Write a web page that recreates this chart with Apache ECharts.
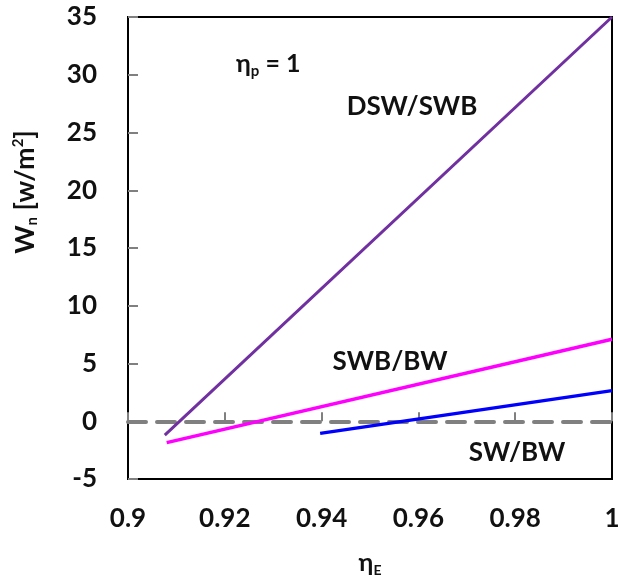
<!DOCTYPE html>
<html><head><meta charset="utf-8">
<script src="https://cdn.jsdelivr.net/npm/echarts@6/dist/echarts.min.js"></script>
<style>html,body{margin:0;padding:0;background:#fff}#c{width:618px;height:583px}</style>
</head><body><div id="c"></div>
<script>
const xTicks = [0.9, 0.92, 0.94, 0.96, 0.98, 1];
const dswX = [0.9076, 1.0];
const dswY = [-1.2, 35];
const swbX = [0.908, 1.0];
const swbY = [-1.85, 7.1];
const swX = [0.9397, 1.0];
const swY = [-1.05, 2.65];
const seriesNames = ['DSW/SWB', 'SWB/BW', 'SW/BW'];

const FONT = 'Lato';
const INK = '#111';
const pair = (xs, ys) => xs.map((x, i) => [x, ys[i]]);
const chart = echarts.init(document.getElementById('c'));
chart.setOption({
  animation: false,
  grid: {left: 128, right: 6, top: 17, bottom: 104, outerBoundsMode: 'none', containLabel: false,
    show: true, borderColor: '#000', borderWidth: 2, backgroundColor: 'transparent'},
  xAxis: [{
    type: 'value', min: 0.9, max: 1, interval: 0.02, position: 'bottom',
    axisLine: {show: false, onZero: false}, axisTick: {show: false}, splitLine: {show: false},
    axisLabel: {margin: 27, fontFamily: FONT, fontWeight: 'bold', fontSize: 26, color: INK,
      formatter: v => String(+v.toFixed(2))},
    name: '{a|η}{s|E}', nameLocation: 'middle', nameGap: 70,
    nameTextStyle: {rich: {a: {fontFamily: FONT, fontWeight: 'bold', fontSize: 25, color: INK},
      s: {fontFamily: FONT, fontWeight: 'bold', fontSize: 14, color: INK, padding: [14, 0, 0, 0]}}}
  }, {
    type: 'value', min: 0.9, max: 1, interval: 0.02, position: 'bottom',
    axisLine: {show: true, onZero: true, lineStyle: {color: '#808080', width: 4, type: [18, 11]}},
    axisTick: {show: true, inside: true, length: 9, lineStyle: {color: '#808080', width: 2}},
    axisLabel: {show: false}, splitLine: {show: false}
  }],
  yAxis: {
    type: 'value', min: -5, max: 35, interval: 5,
    axisLine: {show: false}, splitLine: {show: false},
    axisTick: {show: true, inside: true, length: 10, lineStyle: {color: '#808080', width: 2}},
    axisLabel: {margin: 31, fontFamily: FONT, fontWeight: 'bold', fontSize: 26, color: INK}
  },
  series: [
    {name: seriesNames[0], type: 'line', xAxisIndex: 0, data: pair(dswX, dswY), symbol: 'none', lineStyle: {color: '#7030A0', width: 3}},
    {name: seriesNames[1], type: 'line', xAxisIndex: 0, data: pair(swbX, swbY), symbol: 'none', lineStyle: {color: '#FF00FF', width: 3.5}},
    {name: seriesNames[2], type: 'line', xAxisIndex: 0, data: pair(swX, swY), symbol: 'none', lineStyle: {color: '#0000FF', width: 3.5}}
  ],
  graphic: [
    {type: 'text', x: 25, y: 192, rotation: Math.PI / 2, style: {
      text: '{a|W}{s|n}{a| [w/m}{p|2}{a|]}', align: 'center', verticalAlign: 'middle',
      rich: {a: {fontFamily: FONT, fontWeight: 'bold', fontSize: 27, fill: INK},
             s: {fontFamily: FONT, fontWeight: 'bold', fontSize: 15, fill: INK, padding: [14, 0, 0, 0]},
             p: {fontFamily: FONT, fontWeight: 'bold', fontSize: 15, fill: INK, padding: [0, 0, 14, 0]}}}},
    {type: 'text', x: 236, y: 64, style: {
      text: '{a|η}{s|p}{a| = 1}', verticalAlign: 'middle',
      rich: {a: {fontFamily: FONT, fontWeight: 'bold', fontSize: 25, fill: INK},
             s: {fontFamily: FONT, fontWeight: 'bold', fontSize: 15, fill: INK, padding: [14, 0, 0, 0]}}}},
    {type: 'text', x: 412, y: 107, style: {text: 'DSW/SWB', align: 'center', verticalAlign: 'middle', font: 'bold 26px Lato', fill: INK}},
    {type: 'text', x: 390, y: 362, style: {text: 'SWB/BW', align: 'center', verticalAlign: 'middle', font: 'bold 26px Lato', fill: INK}},
    {type: 'text', x: 517, y: 453, style: {text: 'SW/BW', align: 'center', verticalAlign: 'middle', font: 'bold 26px Lato', fill: INK}}
  ]
});
</script></body></html>
